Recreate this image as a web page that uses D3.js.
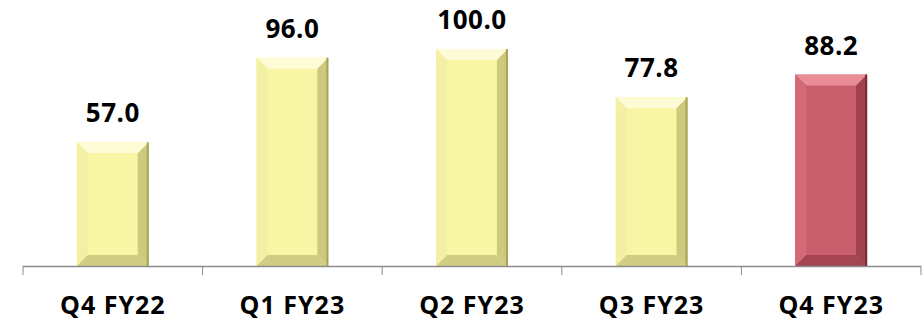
<!DOCTYPE html>
<html>
<head>
<meta charset="utf-8">
<script src="https://cdn.jsdelivr.net/npm/d3@7"></script>
<style>
  body { margin: 0; background: #fff; }
  text { font-family: "Open Sans", sans-serif; font-weight: bold; fill: #000; }
</style>
</head>
<body>
<div id="chart"></div>
<script>
// chart values
var quarters = ["Q4 FY22", "Q1 FY23", "Q2 FY23", "Q3 FY23", "Q4 FY23"];
var values = [57.0, 96.0, 100.0, 77.8, 88.2];
var highlight = ["Q4 FY23"];

var width = 923, height = 325;
var baseY = 266;

var svg = d3.select("#chart").append("svg")
    .attr("width", width)
    .attr("height", height);

var x = d3.scaleBand()
    .domain(quarters)
    .range([23, 921])
    .paddingInner(0.6)
    .paddingOuter(0.3);

var y = d3.scaleLinear()
    .domain([0, 100])
    .range([baseY, 49]);

var yellow = { face: "#f8f5a4", top: "#fdfcd6", left: "#f3f0a6", right: "#a9a45c", bottom: "#d2cd84" };
var red = { face: "#c95e6d", top: "#ea8d99", left: "#d26a78", right: "#7d2b36", bottom: "#a54452" };

var bars = svg.selectAll(".bar")
    .data(quarters)
    .enter().append("g")
    .attr("class", "bar");

bars.each(function(d, i) {
    var g = d3.select(this);
    var x0 = x(d), x1 = x(d) + x.bandwidth();
    var y0 = y(values[i]), y1 = y(0);
    var b = 11;
    var c = highlight.indexOf(d) >= 0 ? red : yellow;
    g.append("rect").attr("x", x0).attr("y", y0).attr("width", x1 - x0).attr("height", y1 - y0)
        .attr("fill", c.face);
    g.append("polygon").attr("points", [[x0, y0], [x1, y0], [x1 - b, y0 + b], [x0 + b, y0 + b]].join(" "))
        .attr("fill", c.top);
    g.append("polygon").attr("points", [[x0, y0], [x0 + b, y0 + b], [x0 + b, y1 - b], [x0, y1]].join(" "))
        .attr("fill", c.left);
    g.append("polygon").attr("points", [[x1, y0], [x1, y1], [x1 - b, y1 - b], [x1 - b, y0 + b]].join(" "))
        .attr("fill", c.right).attr("opacity", 0.55);
    g.append("polygon").attr("points", [[x0, y1], [x0 + b, y1 - b], [x1 - b, y1 - b], [x1, y1]].join(" "))
        .attr("fill", c.bottom);
    g.append("rect").attr("x", x1 - 2).attr("y", y0).attr("width", 2).attr("height", y1 - y0)
        .attr("fill", c.right);
});

// value labels
svg.selectAll(".val")
    .data(quarters)
    .enter().append("text")
    .attr("class", "val")
    .attr("x", function(d) { return x(d) + x.bandwidth() / 2; })
    .attr("y", function(d, i) { return y(values[i]) - 20; })
    .attr("text-anchor", "middle")
    .style("font-size", "26px")
    .style("letter-spacing", "0.5px")
    .text(function(d, i) { return values[i].toFixed(1); });

// axis
var axis = svg.append("g");
axis.append("line")
    .attr("x1", 23).attr("x2", 921)
    .attr("y1", baseY + 0.5).attr("y2", baseY + 0.5)
    .attr("stroke", "#8c8c8c").attr("stroke-width", 1.5);

var step = x.step();
var tickX = d3.range(quarters.length + 1).map(function(k) { return 23 + k * step; });
axis.selectAll(".tick")
    .data(tickX)
    .enter().append("line")
    .attr("x1", function(d) { return d; }).attr("x2", function(d) { return d; })
    .attr("y1", baseY).attr("y2", baseY + 9)
    .attr("stroke", "#8c8c8c").attr("stroke-width", 1);

axis.selectAll(".cat")
    .data(quarters)
    .enter().append("text")
    .attr("x", function(d) { return x(d) + x.bandwidth() / 2; })
    .attr("y", 314)
    .attr("text-anchor", "middle")
    .style("font-size", "25px")
    .style("letter-spacing", "1px")
    .text(function(d) { return d; });
</script>
</body>
</html>
